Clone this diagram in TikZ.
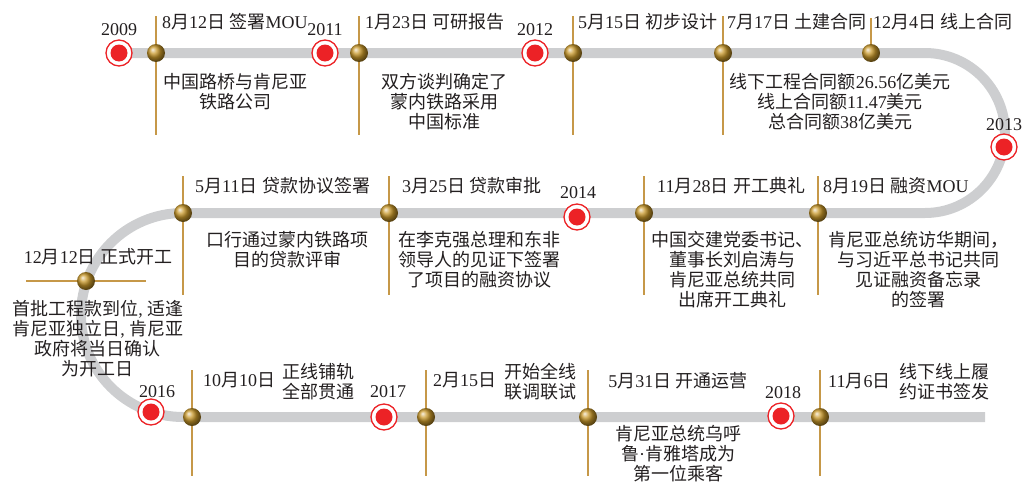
\documentclass[tikz,border=0pt]{standalone}
\usepackage{fontspec}
\setmainfont{Liberation Serif}
\newfontfamily\latinfont{Liberation Serif}
\newfontfamily\zhfont{Noto Sans CJK SC}
\XeTeXinterchartokenstate=1
\newXeTeXintercharclass\cjkclass
\newcount\cjkc
\cjkc="3000
\loop
  \XeTeXcharclass\cjkc=\cjkclass
  \ifnum\cjkc<"9FFF \advance\cjkc by 1 \repeat
\cjkc="FF00
\loop
  \XeTeXcharclass\cjkc=\cjkclass
  \ifnum\cjkc<"FFEF \advance\cjkc by 1 \repeat
\XeTeXinterchartoks 0 \cjkclass = {\zhfont}
\XeTeXinterchartoks 4095 \cjkclass = {\zhfont}
\XeTeXinterchartoks \cjkclass 0 = {\latinfont}
\XeTeXinterchartoks \cjkclass 4095 = {\latinfont}
\definecolor{trackgray}{RGB}{205,206,208}
\definecolor{stemc}{RGB}{198,152,72}
\definecolor{goldc}{RGB}{200,152,42}
\definecolor{markred}{RGB}{236,34,38}
\definecolor{ink}{RGB}{35,31,32}
\tikzset{
  track/.style={draw=trackgray, line width=10pt},
  stemline/.style={draw=stemc, line width=1.3pt},
  gball/.style={circle, inner sep=0pt, minimum size=18pt, ball color=goldc},
  ymark/.style={circle, inner sep=0pt, minimum size=26pt, draw=markred, line width=1.3pt, fill=white,
    path picture={\fill[markred] (path picture bounding box.center) circle (8.5pt);}},
  lbl/.style={inner sep=0pt, text=ink, font=\fontsize{18}{20}\selectfont},
  desc/.style={lbl, align=center},
}
\begin{document}
\begin{tikzpicture}[x=1pt,y=1pt,yscale=-1]
\useasboundingbox (0,0) rectangle (1026,482);
% positions
\coordinate (m1) at (119,53);
\coordinate (c1) at (156,53);
\coordinate (m2) at (325,53);
\coordinate (c2) at (359,53);
\coordinate (m3) at (535,53);
\coordinate (c3) at (573,53);
\coordinate (c4) at (723,53);
\coordinate (c5) at (871,53);
\coordinate (m4) at (1004,147);
\coordinate (c6) at (818,213);
\coordinate (c7) at (644,213);
\coordinate (m5) at (577,217);
\coordinate (c8) at (389,213);
\coordinate (c9) at (183,213);
\coordinate (c10) at (86,281);
\coordinate (m6) at (151,412);
\coordinate (c11) at (192,417);
\coordinate (m7) at (384,417);
\coordinate (c12) at (426,417);
\coordinate (c13) at (588,417);
\coordinate (m8) at (781,416);
\coordinate (c14) at (820,417);
% stem limits
\coordinate (top1) at (0,16);
\coordinate (top1b) at (0,18);
\coordinate (bot1) at (0,135);
\coordinate (top2) at (0,176);
\coordinate (bot2) at (0,295);
\coordinate (top3) at (0,370);
\coordinate (bot3) at (0,476);
\coordinate (lft) at (26,0);
\coordinate (rgt) at (146,0);
% track
\coordinate (p0) at (119,53);
\coordinate (p1) at (925,53);
\coordinate (p2) at (925,213);
\coordinate (p3) at (183,213);
\coordinate (p4) at (183,417);
\coordinate (p5) at (985,417);
\draw[track] (p0) -- (p1)
  .. controls (969.2,53) and (1005,88.8) .. (1005,133)
  .. controls (1005,177.2) and (969.2,213) .. (p2) -- (p3)
  .. controls (126.7,213) and (81,258.7) .. (81,315)
  .. controls (81,371.3) and (126.7,417) .. (p4) -- (p5);
% stems
\foreach \c in {c1,c2,c3,c4} \draw[stemline] (\c|-top1) -- (\c|-bot1);
\draw[stemline] (c5|-top1b) -- (c5);
\foreach \c in {c6,c7,c8,c9} \draw[stemline] (\c|-top2) -- (\c|-bot2);
\draw[stemline] (lft|-c10) -- (rgt|-c10);
\foreach \c in {c11,c12,c13,c14} \draw[stemline] (\c|-top3) -- (\c|-bot3);
% markers
\foreach \c in {1,...,14} \node[gball] (g\c) at (c\c) {};
\foreach \m in {1,...,8} \node[ymark] (r\m) at (m\m) {};
% years
\node[lbl, anchor=base] (y1) at (119,35) {2009};
\node[lbl, anchor=base] (y2) at (325,35) {2011};
\node[lbl, anchor=base] (y3) at (535,35) {2012};
\node[lbl, anchor=base] (y4) at (1004,130) {2013};
\node[lbl, anchor=base] (y5) at (578,198) {2014};
\node[lbl, anchor=base] (y6) at (157,397) {2016};
\node[lbl, anchor=base] (y7) at (388,397) {2017};
\node[lbl, anchor=base] (y8) at (783,398) {2018};
% row 1
\node[lbl, anchor=base west] (t1) at (162,28) {8月12日 签署MOU};
\node[lbl, anchor=base west] (t2) at (365,28) {1月23日 可研报告};
\node[lbl, anchor=base west] (t3) at (578,28) {5月15日 初步设计};
\node[lbl, anchor=base west] (t4) at (727,28) {7月17日 土建合同};
\node[lbl, anchor=base west] (t5) at (873,28) {12月4日 线上合同};
\node[desc, anchor=base] (d1) at (235,108) {中国路桥与肯尼亚\\铁路公司};
\node[desc, anchor=base] (d2) at (444,128) {双方谈判确定了\\蒙内铁路采用\\中国标准};
\node[desc, anchor=base] (d4) at (840,128) {线下工程合同额26.56亿美元\\线上合同额11.47美元\\总合同额38亿美元};
% row 2
\node[lbl, anchor=base west] (t6) at (823,192) {8月19日 融资MOU};
\node[lbl, anchor=base west] (t7) at (657,192) {11月28日 开工典礼};
\node[lbl, anchor=base west] (t8) at (402,192) {3月25日 贷款审批};
\node[lbl, anchor=base west] (t9) at (195,192) {5月11日 贷款协议签署};
\node[lbl, anchor=base] (t10) at (98,263) {12月12日 正式开工};
\node[desc, anchor=base] (d6) at (918,306) {肯尼亚总统访华期间，\\与习近平总书记共同\\见证融资备忘录\\的签署};
\node[desc, anchor=base] (d7) at (732,306) {中国交建党委书记、\\董事长刘启涛与\\肯尼亚总统共同\\出席开工典礼};
\node[desc, anchor=base] (d8) at (479,286) {在李克强总理和东非\\领导人的见证下签署\\了项目的融资协议};
\node[desc, anchor=base] (d9) at (287,266) {口行通过蒙内铁路项\\目的贷款评审};
\node[desc, anchor=base] (d10) at (98,375) {首批工程款到位, 适逢\\肯尼亚独立日, 肯尼亚\\政府将当日确认\\为开工日};
% row 3
\node[lbl, anchor=base west] (t11) at (203,386) {10月10日};
\node[desc, anchor=base] (e11) at (318,398) {正线铺轨\\全部贯通};
\node[lbl, anchor=base west] (t12) at (433,386) {2月15日};
\node[desc, anchor=base] (e12) at (540,398) {开始全线\\联调联试};
\node[lbl, anchor=base] (t13) at (678,387) {5月31日 开通运营};
\node[desc, anchor=base] (d13) at (678,480) {肯尼亚总统乌呼\\鲁·肯雅塔成为\\第一位乘客};
\node[lbl, anchor=base west] (t14) at (828,387) {11月6日};
\node[desc, anchor=base] (e14) at (944,398) {线下线上履\\约证书签发};
\end{tikzpicture}
\end{document}
